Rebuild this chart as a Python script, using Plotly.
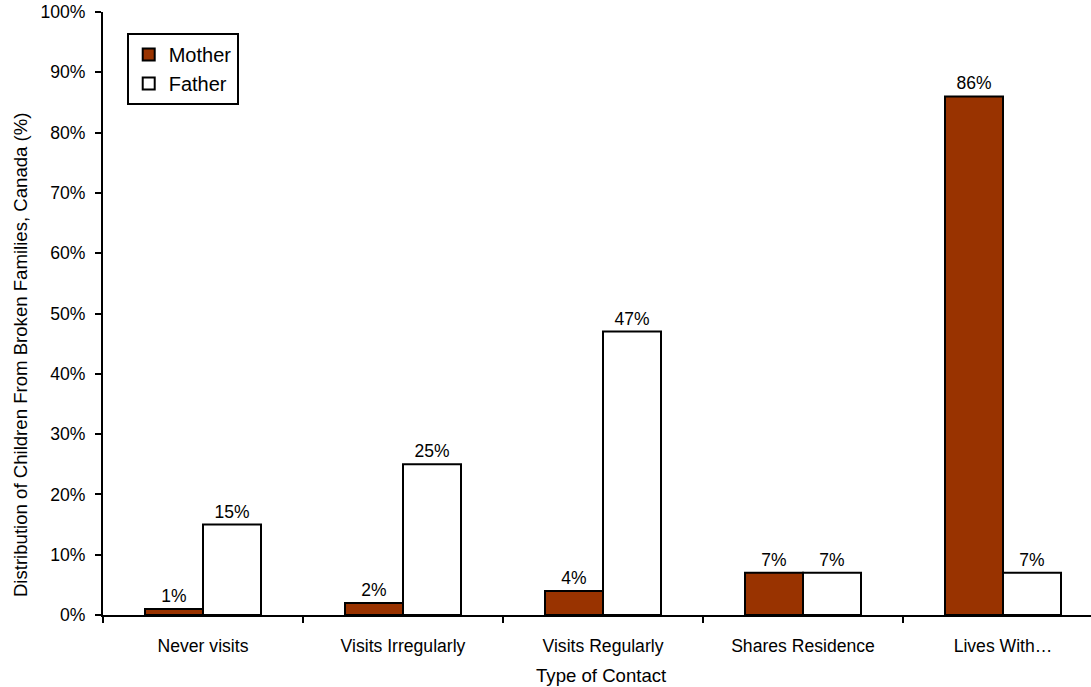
import plotly.graph_objects as go

categories = ["Never visits", "Visits Irregularly", "Visits Regularly", "Shares Residence", "Lives With…"]
mother = [1, 2, 4, 7, 86]
father = [15, 25, 47, 7, 7]

font = "Liberation Sans, Arial, sans-serif"

fig = go.Figure()
fig.add_trace(go.Bar(
    name="Mother", x=categories, y=mother,
    marker=dict(color="#993300", line=dict(color="black", width=2)),
    text=[f"{v}%" for v in mother], textposition="outside",
    textfont=dict(family=font, size=17.5, color="black"), cliponaxis=False,
))
fig.add_trace(go.Bar(
    name="Father", x=categories, y=father,
    marker=dict(color="white", line=dict(color="black", width=2)),
    text=[f"{v}%" for v in father], textposition="outside",
    textfont=dict(family=font, size=17.5, color="black"), cliponaxis=False,
))

fig.update_layout(
    width=1091, height=687,
    margin=dict(l=103, r=0, t=12, b=72),
    paper_bgcolor="white", plot_bgcolor="white",
    barmode="group", bargap=0.42, bargroupgap=0,
    font=dict(family=font, size=17, color="black"),
    legend=dict(
        x=0.024, y=0.965, xanchor="left", yanchor="top",
        bordercolor="black", borderwidth=2, bgcolor="white",
        font=dict(family=font, size=20, color="black"),
        tracegroupgap=0, itemwidth=30,
    ),
    xaxis=dict(
        type="category", range=[-0.5, 4.44],
        showline=True, linecolor="black", linewidth=2,
        ticks="outside", tickson="boundaries", ticklen=6, tickcolor="black", tickwidth=2,
        showgrid=False, ticklabelstandoff=14,
        tickfont=dict(family=font, size=17.6),
    ),
    yaxis=dict(
        range=[0, 100], dtick=10, ticksuffix="%",
        showline=True, linecolor="black", linewidth=2,
        ticks="outside", ticklen=6, tickcolor="black", tickwidth=2,
        showgrid=False, zeroline=False, ticklabelstandoff=6,
        tickfont=dict(family=font, size=17.6),
    ),
    annotations=[
        dict(text="Distribution of Children From Broken Families, Canada (%)",
             xref="paper", yref="paper", x=-0.084, y=0.431, xanchor="center", yanchor="middle",
             textangle=-90, showarrow=False, font=dict(family=font, size=18.6, color="black")),
        dict(text="Type of Contact",
             xref="paper", yref="paper", x=0.505, y=-0.101, xanchor="center", yanchor="middle",
             showarrow=False, font=dict(family=font, size=18.6, color="black")),
    ],
)

fig.write_html("out.html")
